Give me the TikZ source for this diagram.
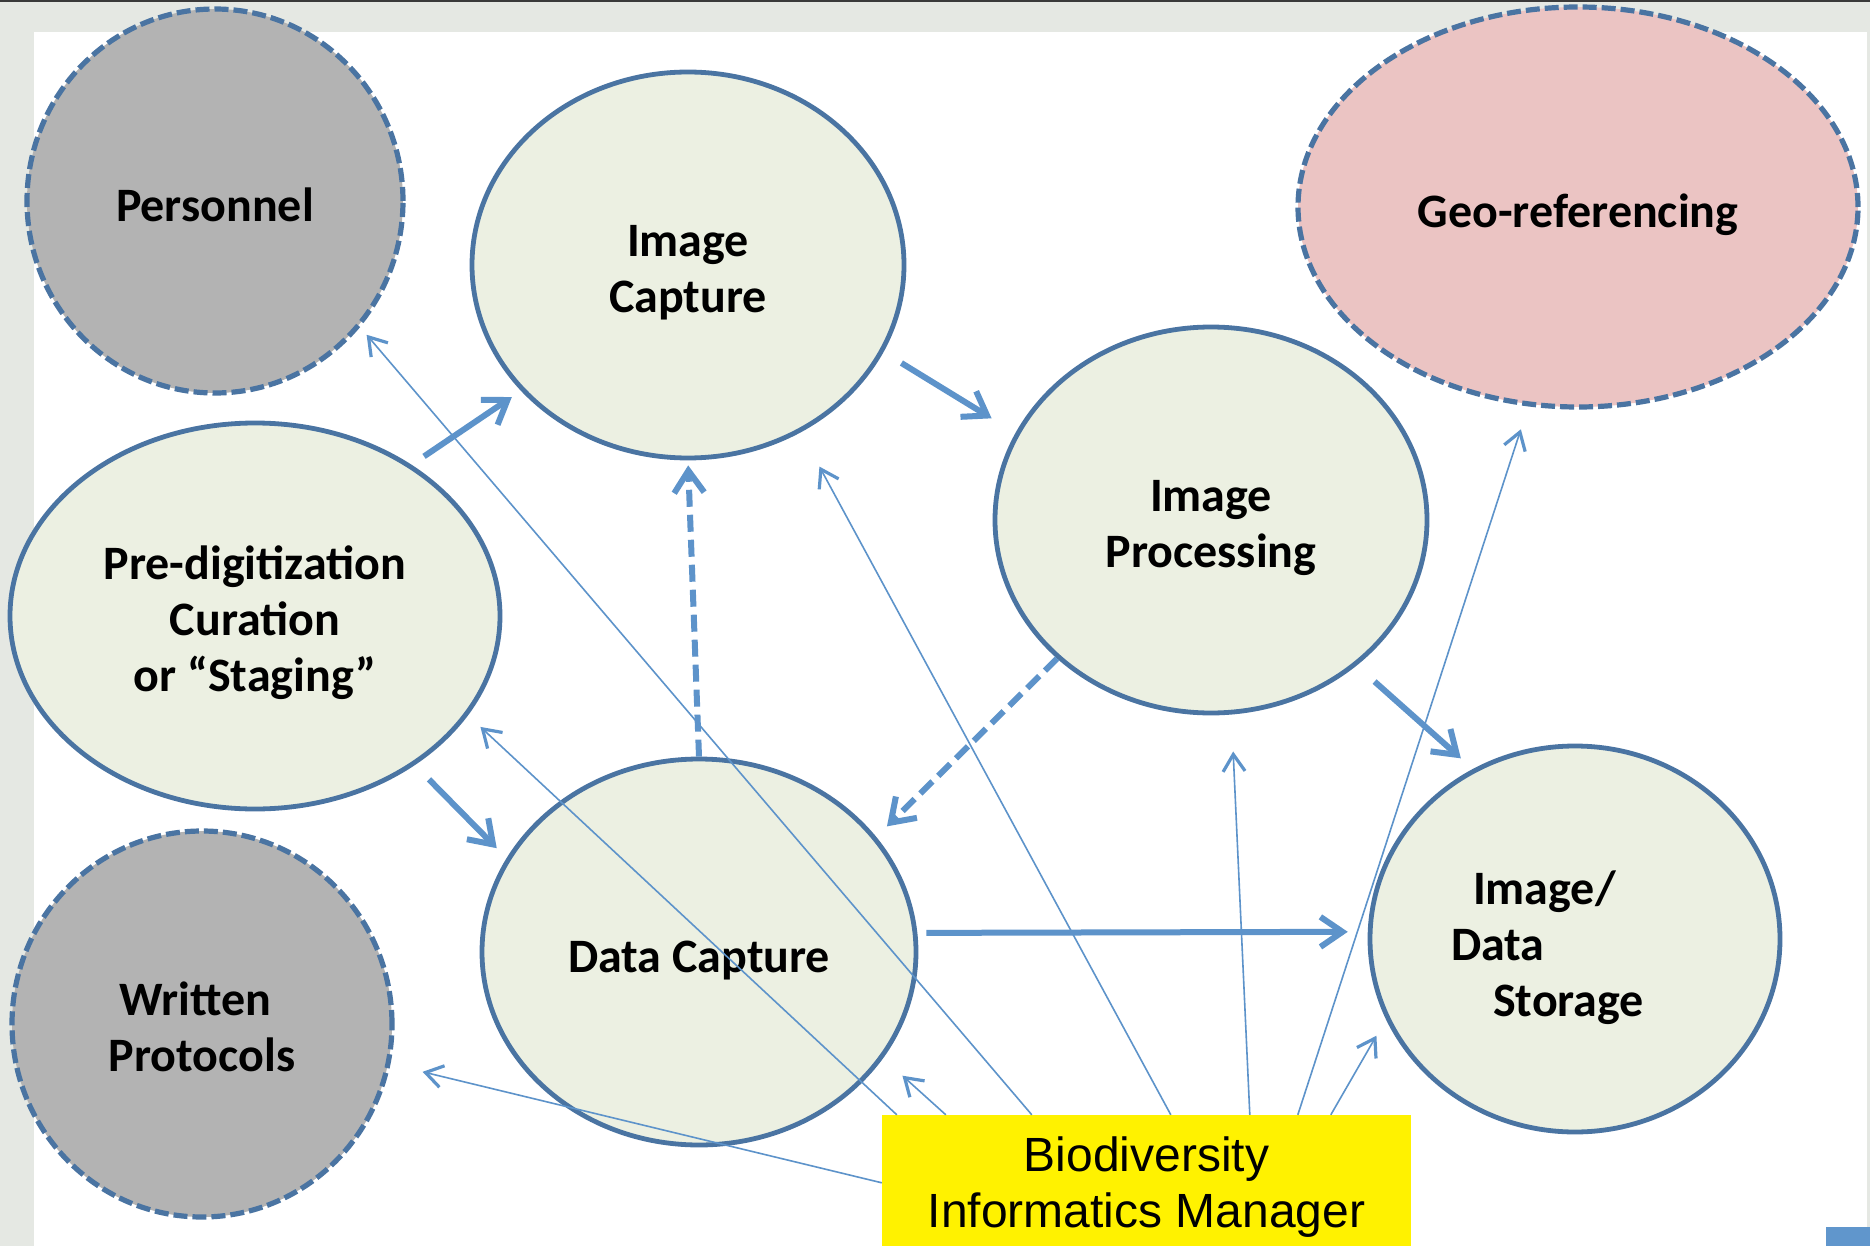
\documentclass[tikz,border=0pt]{standalone}
\usepackage{fontspec}
\setmainfont{Carlito}
\newfontfamily\arialf{Liberation Sans}
\usetikzlibrary{shapes.geometric,arrows.meta}
\definecolor{bord}{HTML}{4A74A2}
\definecolor{arr}{HTML}{5D93CA}
\definecolor{pale}{HTML}{ECF0E2}
\definecolor{greyf}{HTML}{B3B3B3}
\definecolor{pinkf}{HTML}{EBC4C3}
\definecolor{bandc}{HTML}{E5E8E3}
\definecolor{topl}{HTML}{3A3A3A}
\definecolor{sqc}{HTML}{6096CC}
\newcommand\lwrtxt[2]{\raisebox{-#1}[\height][\depth]{\begin{tabular}{@{}c@{}}#2\end{tabular}}}
\begin{document}
\begin{tikzpicture}[x=1pt,y=-1pt,
  ell/.style={ellipse, draw=bord, line width=4.8pt, inner sep=0pt,
    font=\bfseries\fontsize{48}{56}\selectfont, align=center, text=black},
  sol/.style={ell, fill=pale},
  dsh/.style={ell, line width=5.2pt, dash pattern=on 14pt off 5pt},
  thickarr/.style={draw=arr, line width=6pt, -{Straight Barb[length=22pt,width=30pt]}},
  thinarr/.style={draw=arr, line width=1.6pt, -{Straight Barb[length=17pt,width=22pt,line width=3.2pt]}},
  dasharr/.style={thickarr, dash pattern=on 17pt off 8pt},
]
% background
\fill[bandc] (0,0) rectangle (1870,1246);
\fill[white] (34,32) rectangle (1867,1246);
\fill[topl] (0,0) rectangle (1870,2);
\fill[sqc] (1826,1227) rectangle (1870,1246);
\useasboundingbox (0,0) rectangle (1870,1246);

% ellipses
\node[dsh, fill=greyf, minimum width=376pt, minimum height=384pt] (pers) at (215,201) {\lwrtxt{9pt}{Personnel}};
\node[sol, minimum width=432pt, minimum height=386pt] (ic) at (688,265) {\lwrtxt{8pt}{Image\\Capture}};
\node[dsh, fill=pinkf, minimum width=560pt, minimum height=400pt] (geo) at (1578,207) {\lwrtxt{9pt}{Geo-referencing}};
\node[sol, minimum width=432pt, minimum height=386pt] (ip) at (1211,520) {\lwrtxt{8pt}{Image\\Processing}};
\node[sol, minimum width=490pt, minimum height=386pt] (pre) at (255,616) {\lwrtxt{8pt}{Pre-digitization\\Curation\\or “Staging”}};
\node[sol, minimum width=434pt, minimum height=386pt] (dc) at (699,952) {\lwrtxt{9pt}{Data Capture}};
\node[dsh, fill=greyf, minimum width=380pt, minimum height=386pt] (wp) at (202,1024) {\lwrtxt{8pt}{Written\hspace*{13pt}\mbox{}\\Protocols}};
\node[sol, minimum width=410pt, minimum height=386pt] (st) at (1575,939)
  {\raisebox{-10pt}[\height][\depth]{\begin{tabular}{@{}l@{}}\hspace*{22pt}Image/\\Data\\\hspace*{42pt}Storage\hspace*{55pt}\mbox{}\end{tabular}}};

% manager box
\node[fill=yellow, minimum width=529pt, minimum height=131pt, inner sep=0pt,
  font=\arialf\fontsize{48}{56}\selectfont, align=center] (mgr) at (1146.5,1180.5)
  {\lwrtxt{8pt}{Biodiversity\\Informatics Manager}};

% thick arrows
\draw[thickarr, shorten <=15pt, shorten >=11pt] (pre.44) -- (ic.217);
\draw[thickarr, shorten <=21pt, shorten >=28pt] (ic.336) -- (ip.156);
\draw[thickarr, shorten <=20pt, shorten >=14pt] (pre.317) -- (dc.154);
\draw[thickarr, shorten <=24pt, shorten >=16pt] (ip.315) -- (st.121);
\draw[thickarr, shorten <=9pt, shorten >=20pt] (dc.5) -- (st.178);
\draw[dasharr, shorten >=5pt] (dc.north) -- (ic.south);
\draw[dasharr, shorten >=15pt] (ip.222) -- (dc.33);

% thin arrows from manager
\coordinate (sa) at ([xshift=150pt]mgr.north west);
\coordinate (sb) at ([xshift=15pt]mgr.north west);
\coordinate (sc) at ([yshift=-68pt]mgr.north west);
\coordinate (sd) at ([xshift=64pt]mgr.north west);
\coordinate (se) at ([xshift=289pt]mgr.north west);
\coordinate (sf) at ([xshift=368pt]mgr.north west);
\coordinate (sg) at ([xshift=416pt]mgr.north west);
\coordinate (sh) at ([xshift=449pt]mgr.north west);
\draw[thinarr, shorten >=10pt] (sa) -- (pers.319);
\draw[thinarr, shorten >=17pt] (sb) -- (pre.335);
\draw[thinarr, shorten >=33pt] (sc) -- (wp.348);
\draw[thinarr, shorten >=26pt] (sd) -- (dc.330);
\draw[thinarr, shorten >=39pt] (se) -- (ic.304);
\draw[thinarr, shorten >=37pt] (sf) -- (ip.276);
\draw[thinarr, shorten >=24pt] (sg) -- (geo.256);
\draw[thinarr, shorten >=19pt] (sh) -- (st.203);
\end{tikzpicture}
\end{document}
